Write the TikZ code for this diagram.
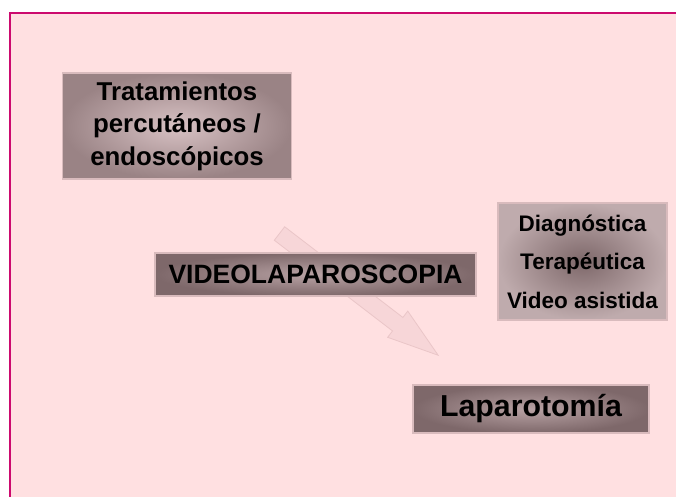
\documentclass[tikz,border=0pt]{standalone}
\usepackage{fontspec}
\setmainfont{Liberation Sans}
\usetikzlibrary{arrows.meta, positioning, calc, shapes}
\definecolor{slidePink}{HTML}{FFE0E1}
\definecolor{slideFrame}{HTML}{CC0A6E}
\definecolor{boxLight}{HTML}{D8C2C4}
\definecolor{boxDark}{HTML}{9A8385}
\definecolor{boxMid}{HTML}{B8A2A4}
\definecolor{boxDeep}{HTML}{7E686A}
\definecolor{boxEdge}{HTML}{D9BBBD}
\definecolor{arrowFill}{HTML}{F7D6D8}
\definecolor{arrowLine}{HTML}{EAC6C8}

\begin{document}
\begin{tikzpicture}[
x=1pt, y=-1pt,
box/.style={
draw=boxEdge,
line width=1.5pt,
align=center,
inner sep=0pt,
font=\bfseries,
shading=radial,
inner color=boxMid,
outer color=boxDeep
},
bigarrow/.style={fill=arrowFill, draw=arrowLine, line width=0.8pt, line join=miter}
]

\useasboundingbox (0,0) rectangle (676,496);

% slide background
\begin{scope}
\clip (0,0) rectangle (676,496);
\fill[slidePink] (10,13) rectangle (690,510);
\draw[slideFrame, line width=1.6pt] (10,510) -- (10,13) -- (690,13);
\end{scope}

% faded arrow behind the boxes
\coordinate (atail) at (279.5,233.5);
\begin{scope}[shift={(atail)}, rotate=-37.5]
\draw[bigarrow] (0,-8.5) -- (149,-8.5) -- (149,-16.5) -- (200,0)
  -- (149,16.5) -- (149,8.5) -- (0,8.5) -- cycle;
\end{scope}

\node[box, minimum width=229, minimum height=106,
  inner color=boxLight, outer color=boxDark,
  font=\bfseries\fontsize{25.8}{32.5}\selectfont] (trat) at (177,126)
{Tratamientos\\percutáneos /\\endoscópicos};

\node[box, minimum width=321, minimum height=43,
  font=\bfseries\fontsize{26.5}{30}\selectfont] (video) at (315.5,274.5)
{VIDEOLAPAROSCOPIA};

\node[box, minimum width=169, minimum height=117,
  inner color=boxDeep, outer color=boxMid!90!white,
  font=\bfseries\fontsize{22.5}{38.5}\selectfont] (tipos) at (582.5,261.5)
{Diagnóstica\\Terapéutica\\Video asistida};

\node[box, minimum width=236, minimum height=48,
  font=\bfseries\fontsize{30.3}{34}\selectfont] (lapa) at (531,409)
{Laparotomía};

\end{tikzpicture}
\end{document}
